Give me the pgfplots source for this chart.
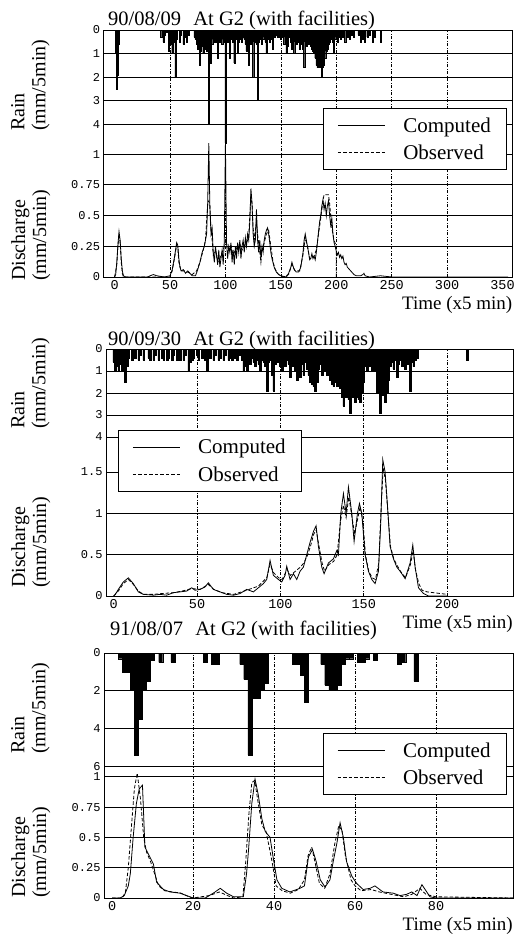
\documentclass[border=0pt]{standalone}
\usepackage{fontspec}
\setmainfont{Liberation Serif}
\newfontfamily\tickfont{Liberation Mono}
\usepackage{pgfplots}
\pgfplotsset{compat=1.18}

\pgfplotsset{
  panel/.style={scale only axis,
    axis line style={line width=0.8pt},
    major tick length=0pt, minor tick length=0pt,
    yticklabel style={font=\tickfont\fontsize{12}{12}\selectfont},
    xticklabel style={font=\tickfont\fontsize{13.5}{13.5}\selectfont}},
  % empty axis that only carries the dash-dot vertical grid
  gridax/.style={panel, ymin=0, ymax=1, ytick=\empty, xticklabels={}, xmajorgrids,
    grid style={black, line width=0.55pt, dash pattern=on 3pt off 1.5pt on 1pt off 1.5pt}},
  rainax/.style={panel, y dir=reverse, ymin=0, ymajorgrids, xtick=\empty,
    grid style={black, line width=0.9pt}},
  qax/.style={panel, ymin=0, ymajorgrids,
    grid style={black, line width=0.9pt},
    xlabel={Time (x5 min)},
    xlabel style={font=\fontsize{19}{19}\selectfont, at={(rel axis cs:1,0)},
      anchor=north east, yshift=-19pt, inner sep=0pt},
    legend style={draw=black, line width=0.8pt, fill=white, anchor=north west,
      font=\fontsize{21}{21}\selectfont, inner xsep=14pt, inner ysep=7pt,
      row sep=7pt, nodes={inner sep=2pt}},
    legend cell align=left,
    legend image code/.code={\draw[#1] (0pt,0pt) -- (47pt,0pt);},
    /tikz/every odd column/.append style={column sep=16pt}},
  comp/.style={black, line width=0.8pt},
  obs/.style={black, line width=0.8pt, dash pattern=on 3.5pt off 2pt},
  rain/.style={ybar, bar width=1, fill=black, draw=black, line width=0.3pt},
}
\tikzset{
  ttl/.style={anchor=base west, font=\fontsize{20.5}{20.5}\selectfont, inner sep=0},
  ylab/.style={rotate=90, anchor=north west, align=left, inner sep=0, font=\fontsize{20}{21}\selectfont},
}

\begin{document}
\begin{tikzpicture}
\useasboundingbox (0,0) rectangle (517pt,-940pt);

% ---------------- panel 1: 90/08/09 ----------------
\node[ttl] at (108pt,-25pt) {90/08/09\hspace{0.6em}At G2 (with facilities)};
\node[ylab] at (11pt,-131pt) {Rain\\(mm/5min)};
\node[ylab] at (11pt,-281pt) {Discharge\\(mm/5min)};

\begin{axis}[gridax, at={(103.5pt,-277pt)}, anchor=south west, width=409pt, height=247pt,
  xmin=-10, xmax=359, xtick={50,100,...,300}]
\end{axis}

\begin{axis}[rainax, at={(103.5pt,-277pt)}, anchor=south west, width=409pt, height=247pt,
  xmin=-10, xmax=359, ymax=10.5,
  ytick={0,1,2,3,4}, yticklabels={0,1,2,3,4}]
\addplot[rain] coordinates {
 (1,1.0)(2,2.5)(3,1.9)(4,0.6)
 (42,0.3)(44,0.5)(45,0.2)(47,0.1)
 (49,0.9)(50,0.4)(51,0.6)(52,1.0)(53,0.5)(54,0.3)(55,2.0)(56,0.4)
 (59,0.5)(60,0.2)(62,0.6)(63,0.3)(65,0.5)(67,0.2)
 (72,0.3)(73,0.4)(74,0.6)(75,0.8)(76,0.7)(77,1.5)(78,0.9)(79,0.7)(80,1.0)(81,0.8)(82,0.6)
 (83,0.9)(84,0.7)(85,4.0)(86,0.8)(87,1.4)(88,0.6)(89,0.4)
 (90,0.5)(91,0.3)(92,0.5)(93,1.2)(94,0.4)(95,0.5)(96,0.3)(97,0.6)(98,0.4)(99,0.5)
 (100,4.8)(101,0.4)(102,0.5)(103,0.3)(104,1.2)(105,0.4)(106,0.3)(107,0.5)(108,1.4)(109,0.4)
 (110,0.3)(111,1.0)(112,0.5)(113,0.3)(114,0.4)(115,0.5)(116,0.3)(117,0.4)(118,0.6)(119,0.9)
 (120,0.5)(121,1.5)(122,0.4)(123,0.6)(124,0.5)(125,2.0)(126,0.5)(127,0.4)(128,0.6)(129,3.0)
 (130,0.5)(131,0.4)(132,0.3)(133,0.6)(134,0.4)(135,0.3)(136,0.5)(137,1.0)(138,0.4)(139,0.3)
 (140,0.5)(141,0.3)(142,0.4)(143,0.8)(144,0.3)(145,0.2)(146,0.2)(147,0.3)(148,0.3)(149,0.2)
 (150,0.4)(151,0.2)(152,0.3)(153,0.6)(154,0.3)(155,1.0)(156,0.7)(157,0.3)(158,0.2)
 (159,0.5)(160,0.8)(161,0.4)(162,1.0)(163,0.5)(164,0.6)(165,0.3)(166,0.5)(167,0.8)(168,0.4)(169,0.6)
 (170,0.8)(171,1.6)(172,0.5)(173,0.7)(174,0.4)(175,0.6)(176,0.5)(177,0.7)(178,0.8)(179,0.9)
 (180,1.0)(181,1.2)(182,1.5)(183,1.6)(184,1.6)(185,1.6)(186,1.6)(187,2.0)(188,1.6)(189,1.5)
 (190,1.2)(191,0.9)(192,0.8)(193,0.6)(194,0.5)(195,0.4)(196,0.3)(197,0.5)(198,1.0)(199,0.4)
 (200,0.3)(201,0.5)(202,0.3)(203,0.2)(204,0.4)(205,0.2)(206,0.3)(208,0.5)(210,0.3)(212,0.4)(214,0.2)(216,0.3)
 (220,0.2)(222,0.5)(224,0.4)(226,0.5)(228,0.3)(230,0.2)(233,0.5)(235,0.3)(240,0.5)
};
\end{axis}

\begin{axis}[qax, at={(103.5pt,-277pt)}, anchor=south west, width=409pt, height=247pt,
  xmin=-10, xmax=359, ymax=2.01, xtick={0,50,...,350},
  xticklabels={0,50,100,150,200,250,300,350},
  ytick={0,0.25,0.5,0.75,1}, yticklabels={0,0.25,0.5,0.75,1},
  legend style={at={(0.537,0.684)}}]
\addplot[comp] coordinates {
 (0,0)(1,0.02)(2,0.12)(3,0.26)(4,0.37)(5,0.3)(6,0.15)(7,0.05)(8,0.01)(10,0)(30,0)(32,0.01)(35,0.02)(38,0.01)(45,0)
 (50,0.01)(52,0.06)(54,0.16)(56,0.28)(57,0.26)(58,0.15)(59,0.08)(60,0.05)(62,0.06)(64,0.03)(66,0.05)(68,0.03)(70,0.01)
 (73,0.01)(75,0.06)(77,0.12)(79,0.2)(81,0.25)(83,0.35)(84,0.6)(85,1.09)(86,0.55)(87,0.35)(88,0.4)(89,0.2)
 (90,0.12)(91,0.25)(92,0.18)(93,0.1)(94,0.22)(95,0.08)(96,0.15)(97,0.22)(98,0.1)(99,0.3)
 (100,1.09)(101,0.28)(102,0.15)(103,0.25)(104,0.2)(105,0.28)(106,0.12)(107,0.22)(108,0.1)(109,0.25)
 (110,0.15)(111,0.28)(112,0.2)(113,0.3)(114,0.15)(115,0.25)(116,0.3)(117,0.2)(118,0.32)(119,0.25)
 (120,0.35)(121,0.3)(122,0.45)(123,0.72)(124,0.6)(125,0.35)(126,0.25)(127,0.3)(128,0.55)(129,0.3)
 (130,0.2)(131,0.3)(132,0.15)(133,0.25)(134,0.2)(135,0.3)(136,0.35)(137,0.38)(138,0.4)(139,0.35)
 (140,0.28)(141,0.2)(142,0.15)(144,0.08)(146,0.04)(148,0.02)(150,0.01)(155,0)(157,0.03)(159,0.08)
 (160,0.12)(161,0.09)(162,0.06)(164,0.04)(166,0.04)(168,0.08)(170,0.2)(171,0.3)(172,0.35)(173,0.3)
 (174,0.25)(175,0.2)(176,0.14)(177,0.15)(178,0.19)(179,0.15)(180,0.17)(181,0.14)(182,0.2)(183,0.28)
 (184,0.37)(185,0.45)(186,0.5)(187,0.58)(188,0.63)(189,0.55)(190,0.6)(191,0.5)(192,0.58)(193,0.62)
 (194,0.5)(195,0.42)(196,0.48)(197,0.35)(198,0.28)(199,0.25)(200,0.21)(201,0.18)(202,0.2)(203,0.16)
 (204,0.18)(205,0.15)(206,0.17)(207,0.12)(208,0.1)(209,0.11)(210,0.08)(212,0.06)(214,0.04)(216,0.02)
 (218,0.01)(222,0.01)(224,0.02)(225,0.03)(226,0.01)(230,0)(240,0.01)(250,0)(355,0)
};
\addlegendentry{Computed}
\addplot[obs] coordinates {
 (0,0)(2,0.1)(3,0.25)(4,0.35)(5,0.28)(6,0.12)(7,0.03)(8,0)(50,0)(52,0.05)(54,0.15)(56,0.26)(57,0.24)
 (58,0.12)(60,0.05)(63,0.05)(66,0.04)(70,0.02)(74,0.05)(77,0.12)(80,0.22)(82,0.3)(83,0.45)(84,0.6)
 (85,0.62)(86,0.58)(87,0.4)(88,0.3)(89,0.18)(91,0.22)(93,0.12)(95,0.15)(97,0.2)(99,0.25)(100,0.3)
 (101,0.27)(103,0.22)(105,0.25)(107,0.18)(109,0.22)(111,0.25)(113,0.27)(115,0.22)(117,0.25)(119,0.28)
 (121,0.32)(122,0.5)(123,0.65)(124,0.6)(125,0.4)(126,0.3)(128,0.45)(129,0.35)(131,0.2)(132,0.12)
 (133,0.22)(135,0.28)(137,0.35)(139,0.38)(141,0.25)(143,0.12)(145,0.06)(148,0.02)(152,0)(157,0.02)
 (160,0.1)(163,0.05)(167,0.05)(170,0.18)(172,0.32)(174,0.25)(176,0.15)(178,0.15)(180,0.17)(182,0.22)
 (184,0.35)(186,0.48)(188,0.62)(189,0.67)(193,0.67)(194,0.6)(196,0.4)(198,0.3)(200,0.25)(200,0)
};
\addlegendentry{Observed}
\end{axis}

% ---------------- panel 2: 90/09/30 ----------------
\node[ttl] at (108pt,-345pt) {90/09/30\hspace{0.6em}At G2 (with facilities)};
\node[ylab] at (11pt,-429pt) {Rain\\(mm/5min)};
\node[ylab] at (11pt,-588pt) {Discharge\\(mm/5min)};

\begin{axis}[gridax, at={(106pt,-596pt)}, anchor=south west, width=407pt, height=247pt,
  xmin=-4.6, xmax=239.5, xtick={50,100,150,200}]
\end{axis}

\begin{axis}[rainax, at={(106pt,-596pt)}, anchor=south west, width=407pt, height=247pt,
  xmin=-4.6, xmax=239.5, ymax=11.23,
  ytick={0,1,2,3,4}, yticklabels={0,1,2,3,4}]
\addplot[rain] coordinates {
 (0,0.6)(1,1.0)(2,0.8)(3,1.0)(4,0.7)(5,1.0)(6,0.9)(7,1.5)(8,0.8)(9,0.4)
 (11,0.5)(13,0.4)(15,0.5)(16,0.3)(18,0.5)(21,0.4)(22,0.5)(24,0.5)(25,0.3)(27,0.5)(29,0.4)
 (30,0.5)(32,0.5)(33,0.4)(35,0.5)(36,0.3)(38,0.5)(39,0.4)(40,0.5)(42,0.5)(43,0.3)(45,1.0)
 (46,0.6)(47,0.5)(48,0.4)(50,0.3)(51,0.5)(53,0.4)(55,0.5)(56,1.0)(58,0.4)(60,0.5)(61,0.3)
 (63,0.5)(64,0.4)(66,0.5)(67,0.3)(69,0.5)(70,0.4)(71,0.5)(73,0.4)(74,0.5)(76,0.3)(77,0.5)
 (78,1.0)(79,0.8)(80,1.0)(81,0.5)(82,0.7)(83,0.4)(84,0.6)(85,0.8)(86,0.5)(87,0.7)(88,1.0)
 (89,0.5)(90,0.6)(91,0.8)(92,1.9)(93,0.6)(94,0.5)(95,1.2)(96,1.9)(97,0.7)(98,0.6)(99,0.5)
 (100,0.8)(101,1.0)(102,0.6)(103,0.8)(104,0.5)(105,0.7)(106,1.3)(107,0.8)(108,0.6)(109,1.0)
 (110,1.4)(111,0.8)(112,1.3)(113,0.7)(114,1.2)(115,0.6)(116,0.9)(117,1.2)(118,1.5)(119,1.6)
 (120,1.7)(121,1.9)(122,1.5)(123,0.9)(124,0.7)(125,1.2)(126,0.8)(127,1.0)(128,1.2)(129,0.8)
 (130,1.4)(131,1.6)(132,1.7)(133,1.5)(134,1.7)(135,1.6)(136,1.8)(137,2.2)(138,2.6)(139,2.2)
 (140,2.2)(141,2.3)(142,2.9)(143,2.2)(144,2.2)(145,2.4)(146,2.2)(147,2.3)(148,2.4)(149,2.0)
 (150,1.5)(151,0.8)(152,1.0)(153,0.6)(154,0.8)(155,1.0)(156,0.7)(157,1.0)(158,2.0)(159,2.0)
 (160,2.9)(161,2.1)(162,2.0)(163,2.4)(164,2.0)(165,1.4)(166,0.8)(167,0.6)(168,0.9)(169,0.5)
 (170,1.3)(171,0.7)(172,0.5)(173,0.8)(174,0.6)(175,0.9)(176,0.7)(177,0.5)(178,1.9)(179,0.6)
 (180,0.8)(181,0.5)(182,0.4)(212,0.5)
};
\end{axis}

\begin{axis}[qax, at={(106pt,-596pt)}, anchor=south west, width=407pt, height=247pt,
  xmin=-4.6, xmax=239.5, ymax=2.99, xtick={0,50,100,150,200},
  xticklabels={0,50,100,150,200},
  ytick={0,0.5,1,1.5}, yticklabels={0,0.5,1,1.5},
  legend style={at={(0.0295,0.672)}}]
\addplot[comp] coordinates {
 (0,0)(1,0.02)(2.8,0.08)(5.8,0.17)(8.8,0.22)(11.8,0.15)(14.8,0.05)(17.8,0.02)(23.8,0.01)(27.8,0.02)
 (31.8,0.01)(35.8,0.04)(39.8,0.05)(43.8,0.06)(46.8,0.1)(48.8,0.07)(51.8,0.08)(54.8,0.11)(56.8,0.16)
 (59.8,0.08)(63.8,0.05)(67.8,0.02)(71.8,0.01)(75.8,0.03)(79.8,0.08)(83.8,0.05)(86.8,0.1)(89.8,0.15)
 (91.8,0.2)(93.8,0.43)(95.8,0.25)(98.8,0.2)(100.8,0.17)(102.8,0.25)(103.8,0.36)(105.8,0.2)(107.8,0.27)
 (109.8,0.2)(111.8,0.3)(113.8,0.35)(115.8,0.5)(117.8,0.65)(119.8,0.78)(121.4,0.85)(122.8,0.6)
 (124.8,0.35)(126.2,0.27)(128.8,0.4)(131.8,0.45)(133.8,0.55)(134.8,0.5)(136.2,1.0)(137.8,1.24)
 (139.4,1.0)(140.8,1.32)(142.8,1.0)(144.2,0.66)(146.2,1.0)(147.4,1.12)(148.8,1.0)(150.8,0.5)
 (152.8,0.3)(154.8,0.2)(156.8,0.15)(158.8,0.3)(160.2,0.9)(161.4,1.65)(162.8,1.5)(164.2,1.1)
 (165.8,0.6)(167.8,0.45)(169.8,0.35)(171.8,0.3)(174.8,0.21)(177.8,0.4)(179.4,0.62)(180.8,0.35)
 (182.8,0.1)(185.8,0.03)(188.8,0)(200,0)
};
\addlegendentry{Computed}
\addplot[obs] coordinates {
 (0,0)(2.8,0.06)(5.8,0.15)(8.8,0.2)(11.8,0.14)(14.8,0.06)(17.8,0.02)(23.8,0.02)(29,0.03)(35.8,0.04)
 (41,0.06)(46.8,0.09)(51.8,0.08)(56.8,0.14)(60,0.08)(65,0.04)(72,0.02)(79.8,0.07)(86.8,0.12)
 (91.8,0.22)(93.8,0.38)(96,0.28)(99,0.22)(101,0.2)(104,0.32)(106,0.25)(109,0.3)(112,0.35)(114,0.4)
 (116,0.48)(118,0.6)(120,0.75)(121.5,0.8)(123,0.62)(125,0.4)(126.5,0.3)(129,0.38)(132,0.42)(134,0.5)
 (136,0.9)(137.8,1.1)(139.4,0.95)(141,1.2)(143,0.95)(144.5,0.75)(146.5,0.95)(147.8,1.08)(149.5,0.9)
 (151,0.5)(153,0.3)(155,0.22)(157,0.2)(159,0.4)(160.5,1.1)(161.6,1.55)(163,1.4)(164.5,1.0)(166,0.6)
 (168,0.45)(170,0.37)(172,0.3)(175,0.22)(178,0.38)(179.6,0.55)(181,0.32)(183,0.15)(185,0.07)
 (188,0.05)(192,0.04)(196,0.03)(200,0.02)
};
\addlegendentry{Observed}
\end{axis}

% ---------------- panel 3: 91/08/07 ----------------
\node[ttl] at (110pt,-635pt) {91/08/07\hspace{0.6em}At G2 (with facilities)};
\node[ylab] at (11pt,-754pt) {Rain\\(mm/5min)};
\node[ylab] at (11pt,-898pt) {Discharge\\(mm/5min)};

\begin{axis}[gridax, at={(104pt,-898pt)}, anchor=south west, width=409pt, height=245pt,
  xmin=-2, xmax=99, xtick={20,40,60,80}]
\end{axis}

\begin{axis}[rainax, at={(104pt,-898pt)}, anchor=south west, width=409pt, height=245pt,
  xmin=-2, xmax=99, ymax=13.0,
  ytick={0,2,4,6}, yticklabels={0,2,4,6}]
\addplot[rain] coordinates {
 (2,0.3)(3,1.0)(4,1.0)(5,1.95)(6,5.4)(7,3.5)(8,1.9)(9,1.5)(10,0.4)(12,0.5)(15,0.5)
 (23,0.5)(25,0.6)(26,0.6)
 (32,0.6)(33,1.4)(34,5.4)(35,2.4)(36,2.4)(37,1.9)(38,1.6)
 (45,0.6)(46,0.6)(47,1.2)(48,2.6)
 (52,0.6)(53,1.7)(54,1.95)(55,1.95)(56,1.7)(57,0.6)(58,0.3)(59,0.3)
 (61,0.5)(62,0.5)(63,0.3)(65,0.4)(71,0.6)(72,0.5)(75,1.5)
};
\end{axis}

\begin{axis}[qax, at={(104pt,-898pt)}, anchor=south west, width=409pt, height=245pt,
  xmin=-2, xmax=99, ymax=2.02, xtick={0,20,40,60,80},
  xticklabels={0,20,40,60,80},
  ytick={0,0.25,0.5,0.75,1}, yticklabels={0,0.25,0.5,0.75,1},
  legend style={at={(0.535,0.673)}}]
\addplot[comp] coordinates {
 (0,0)(2,0)(3,0.02)(4,0.1)(4.5,0.2)(5.2,0.5)(6,0.78)(6.7,0.9)(7.5,0.93)(8.1,0.42)(9,0.36)(10.2,0.28)
 (11,0.13)(12.7,0.07)(14.3,0.05)(16.8,0.04)(18.4,0.02)(20,0)(23,0)(25,0.04)(26.7,0.08)(28.3,0.04)
 (30,0.01)(32.4,0.01)(33.2,0.2)(33.7,0.4)(34.5,0.78)(35.3,0.98)(36.1,0.85)(37,0.65)(37.8,0.55)
 (39,0.5)(39.7,0.35)(40.7,0.15)(41.9,0.08)(43.9,0.05)(46.4,0.08)(47.5,0.1)(48.5,0.34)(49.5,0.4)
 (50.4,0.3)(51.4,0.15)(52.6,0.09)(53.8,0.15)(54.6,0.3)(55.5,0.45)(56.3,0.62)(57.1,0.5)(57.9,0.3)
 (59.2,0.18)(60.4,0.12)(62,0.07)(63.7,0.08)(64.9,0.1)(66.9,0.05)(69.4,0.04)(71.1,0.02)(72.7,0.03)
 (74,0.05)(75.3,0.02)(76.5,0.11)(78.5,0.01)(80,0)(99,0)
};
\addlegendentry{Computed}
\addplot[obs] coordinates {
 (0,0)(2.5,0)(3.3,0.05)(4,0.25)(4.8,0.6)(5.5,0.9)(6.2,1.03)(7,0.82)(7.8,0.5)(8.5,0.38)(9.5,0.3)
 (10.5,0.2)(11.5,0.1)(13,0.06)(15,0.05)(17,0.04)(19,0.01)(20,0)(24,0.02)(26.5,0.05)(28.5,0.02)
 (30,0)(32.3,0.01)(33,0.3)(33.8,0.7)(34.5,0.95)(35.2,0.97)(36,0.8)(37,0.6)(38,0.55)(38.8,0.42)
 (39.5,0.3)(40.5,0.1)(42,0.06)(44,0.04)(46,0.07)(47.5,0.15)(48.4,0.35)(49.3,0.42)(50.2,0.28)
 (51.2,0.12)(52.5,0.08)(53.8,0.2)(55,0.45)(56,0.6)(56.8,0.55)(57.6,0.35)(59,0.15)(60,0.1)
 (61.5,0.06)(64,0.07)(66,0.05)(69,0.03)(72,0.01)(74,0.03)(76,0.08)(77.5,0.03)(80,0.01)(99,0)
};
\addlegendentry{Observed}
\end{axis}
\end{tikzpicture}
\end{document}
